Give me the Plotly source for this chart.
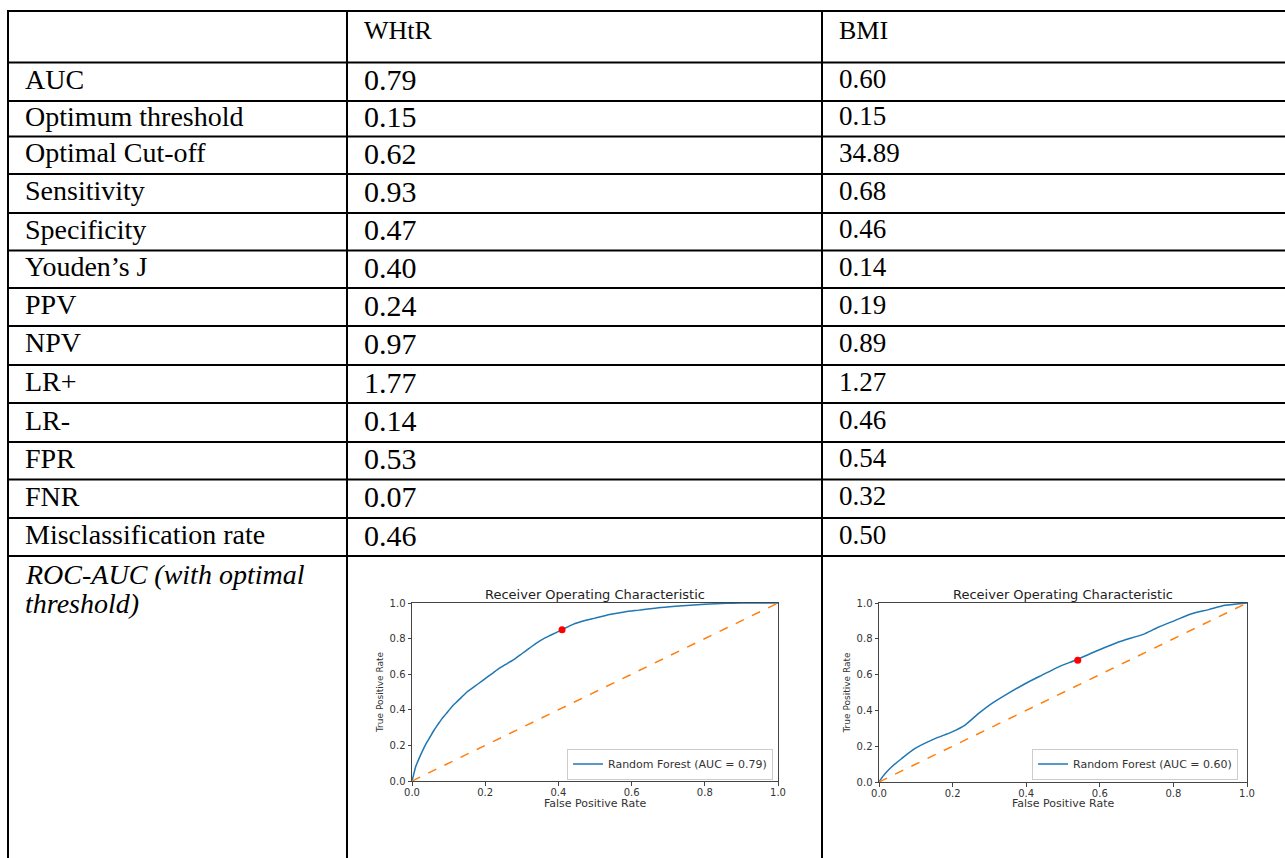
import plotly.graph_objects as go

# ---------------- data ----------------
row_labels = ["AUC", "Optimum threshold", "Optimal Cut-off", "Sensitivity", "Specificity",
              "Youden’s J", "PPV", "NPV", "LR+", "LR-", "FPR", "FNR", "Misclassification rate"]
col_headers = ["WHtR", "BMI"]
whtr_values = [0.79, 0.15, 0.62, 0.93, 0.47, 0.40, 0.24, 0.97, 1.77, 0.14, 0.53, 0.07, 0.46]
bmi_values = [0.60, 0.15, 34.89, 0.68, 0.46, 0.14, 0.19, 0.89, 1.27, 0.46, 0.54, 0.32, 0.50]
roc_row_label = ["ROC-AUC (with optimal", "threshold)"]

# ROC curve (WHtR)
whtr_fpr = [0, 0.005, 0.01, 0.02, 0.03, 0.04, 0.05, 0.06, 0.07, 0.08, 0.09, 0.10, 0.11, 0.12,
            0.13, 0.14, 0.15, 0.16, 0.18, 0.20, 0.22, 0.24, 0.26, 0.28, 0.30, 0.32, 0.34,
            0.36, 0.38, 0.41, 0.44, 0.47, 0.50, 0.54, 0.58, 0.62, 0.68, 0.74, 0.80, 0.86,
            0.90, 1.0]
whtr_tpr = [0, 0.04, 0.08, 0.13, 0.175, 0.215, 0.25, 0.285, 0.315, 0.345, 0.37, 0.395, 0.42,
            0.44, 0.46, 0.48, 0.50, 0.515, 0.545, 0.575, 0.605, 0.635, 0.66, 0.685, 0.715,
            0.745, 0.775, 0.80, 0.82, 0.85, 0.88, 0.90, 0.915, 0.935, 0.95, 0.96, 0.975,
            0.985, 0.993, 0.998, 1.0, 1.0]
whtr_auc = 0.79
whtr_opt = (0.41, 0.85)

# ROC curve (BMI)
bmi_fpr = [0, 0.01, 0.02, 0.034, 0.061, 0.097, 0.152, 0.197, 0.233, 0.27, 0.306, 0.342, 0.397,
           0.442, 0.487, 0.537, 0.596, 0.651, 0.723, 0.76, 0.805, 0.85, 0.896, 0.941, 1.0]
bmi_tpr = [0, 0.03, 0.055, 0.084, 0.130, 0.186, 0.242, 0.279, 0.317, 0.382, 0.438, 0.484,
           0.549, 0.596, 0.642, 0.683, 0.736, 0.782, 0.829, 0.866, 0.903, 0.94, 0.963, 0.987,
           1.0]
bmi_auc = 0.60
bmi_opt = (0.54, 0.68)

chance = [0, 1]
ticks = [0, 0.2, 0.4, 0.6, 0.8, 1.0]

# ---------------- layout geometry (pixels) ----------------
W, H = 1285, 858
def px(x):
    return x / W
def py(y):
    return 1 - y / H

row_lines = [11, 62.5, 101, 136.5, 174, 213, 250.5, 288, 326, 365, 403, 442, 479.5, 518, 556]
col_lines = [8, 347, 822]
text_x = [23, 362, 837]

SERIF = "Liberation Serif, Times New Roman, serif"
SANS = "DejaVu Sans, sans-serif"

fig = go.Figure()

def add_roc(fpr, tpr, auc, opt, xa, ya, leg):
    fig.add_trace(go.Scatter(x=fpr, y=tpr, mode="lines",
                             line=dict(color="#1f77b4", width=1.5, shape="spline", smoothing=0.6),
                             name=f"Random Forest (AUC = {auc:.2f})", legend=leg,
                             xaxis=xa, yaxis=ya))
    fig.add_trace(go.Scatter(x=chance, y=chance, mode="lines",
                             line=dict(color="#ff7f0e", width=1.5, dash="dash"),
                             showlegend=False, xaxis=xa, yaxis=ya))
    fig.add_trace(go.Scatter(x=[opt[0]], y=[opt[1]], mode="markers",
                             marker=dict(color="red", size=7), showlegend=False,
                             xaxis=xa, yaxis=ya))

add_roc(whtr_fpr, whtr_tpr, whtr_auc, whtr_opt, "x", "y", "legend")
add_roc(bmi_fpr, bmi_tpr, bmi_auc, bmi_opt, "x2", "y2", "legend2")

shapes = []
for y in row_lines:
    shapes.append(dict(type="line", xref="paper", yref="paper", x0=px(7), x1=1.01,
                       y0=py(y), y1=py(y), line=dict(color="black", width=2)))
for x in col_lines:
    shapes.append(dict(type="line", xref="paper", yref="paper", x0=px(x), x1=px(x),
                       y0=py(10), y1=-0.01, line=dict(color="black", width=2)))

annotations = []
# header
for i, h in enumerate(col_headers):
    annotations.append(dict(text=h, x=px(text_x[i + 1]), y=py(30), xref="paper", yref="paper",
                            xanchor="left", yanchor="middle", showarrow=False,
                            font=dict(family=SERIF, size=26, color="black")))
for r, lab in enumerate(row_labels):
    yc = (row_lines[r + 1] + row_lines[r + 2]) / 2
    annotations.append(dict(text=lab, x=px(text_x[0]), y=py(yc - 2.5), xref="paper", yref="paper",
                            xanchor="left", yanchor="middle", showarrow=False,
                            font=dict(family=SERIF, size=28, color="black")))
    annotations.append(dict(text=f"{whtr_values[r]:.2f}", x=px(text_x[1]), y=py(yc - 2),
                            xref="paper", yref="paper", xanchor="left", yanchor="middle",
                            showarrow=False, font=dict(family=SERIF, size=30, color="black")))
    annotations.append(dict(text=f"{bmi_values[r]:.2f}", x=px(text_x[2]), y=py(yc - 2.5),
                            xref="paper", yref="paper", xanchor="left", yanchor="middle",
                            showarrow=False, font=dict(family=SERIF, size=27, color="black")))
for k, line in enumerate(roc_row_label):
    annotations.append(dict(text=f"<i>{line}</i>", x=px(text_x[0]), y=py(574 + 29 * k),
                            xref="paper", yref="paper", xanchor="left", yanchor="middle",
                            showarrow=False, font=dict(family=SERIF, size=28, color="black")))
# subplot titles and x-axis titles
for xa, ya in [("x", "y"), ("x2", "y2")]:
    annotations.append(dict(text="Receiver Operating Characteristic", x=0.5, y=1.0,
                            xref=f"{xa} domain", yref=f"{ya} domain", xanchor="center",
                            yanchor="bottom", yshift=-1, showarrow=False,
                            font=dict(family=SANS, size=13, color="#222")))
    annotations.append(dict(text="False Positive Rate", x=0.5, y=py(803),
                            xref=f"{xa} domain", yref="paper", xanchor="center",
                            yanchor="middle", showarrow=False,
                            font=dict(family=SANS, size=11, color="#333")))

axis_common = dict(range=[0, 1], showgrid=False, zeroline=False, showline=True,
                   linecolor="#444", linewidth=1, mirror=True, ticks="outside", ticklen=3.5,
                   tickwidth=1, tickcolor="#444", tickvals=ticks, tickformat=".1f",
                   tickfont=dict(family=SANS, size=10, color="#333"), fixedrange=True)

ytitle = dict(text="True Positive Rate", standoff=4, font=dict(family=SANS, size=9, color="#333"))
legend_common = dict(xanchor="right", yanchor="bottom", bgcolor="white", bordercolor="#ccc",
                     borderwidth=1, font=dict(family=SANS, size=11, color="#333"), itemwidth=30,
                     tracegroupgap=0)

fig.update_layout(
    width=W, height=H, margin=dict(l=0, r=0, t=0, b=0),
    template="none", paper_bgcolor="white", plot_bgcolor="white",
    shapes=shapes, annotations=annotations,
    xaxis=dict(domain=[px(412), px(778)], anchor="y", ticklabelstandoff=-2, **axis_common),
    yaxis=dict(domain=[py(781), py(603)], anchor="x", title=ytitle, **axis_common),
    xaxis2=dict(domain=[px(879), px(1247)], anchor="y2", ticklabelstandoff=-2, **axis_common),
    yaxis2=dict(domain=[py(782), py(603)], anchor="x2", title=ytitle, **axis_common),
    legend=dict(x=px(773), y=py(779.5), **legend_common),
    legend2=dict(x=px(1238), y=py(779.5), **legend_common),
    showlegend=True,
)

fig.write_html("out.html", config={"displayModeBar": False},
               post_script="document.body.style.margin='0';document.body.style.overflow='hidden';")
